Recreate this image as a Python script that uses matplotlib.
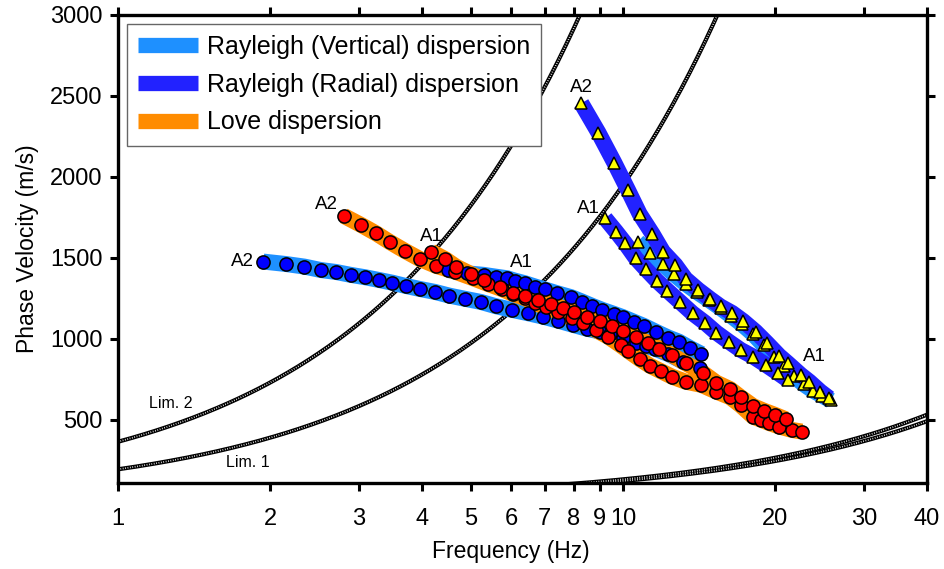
import numpy as np
import matplotlib
matplotlib.use("Agg")
from matplotlib import pyplot as plt
from matplotlib.lines import Line2D

plt.rcParams['font.family'] = ['Liberation Sans', 'DejaVu Sans']

# Rayleigh (vertical) - circle branches
rv_a2_f = [1.94, 2.15, 2.34, 2.52, 2.70, 2.89, 3.09, 3.28, 3.49, 3.71, 3.96, 4.24, 4.53, 4.87,
           5.23, 5.61, 6.03, 6.49, 6.95, 7.45, 7.97, 8.5, 9.0, 9.43, 10.0, 10.6, 11.1, 11.56,
           12.29, 13.15, 14.2]
rv_a2_v = [1477, 1462, 1446, 1425, 1413, 1395, 1380, 1364, 1347, 1327, 1308, 1290, 1267, 1247,
           1228, 1201, 1179, 1158, 1137, 1112, 1086, 1062, 1045, 1030, 1005, 975, 955, 940,
           907, 860, 819]
rv_a1_f = [4.5, 4.9, 5.3, 5.6, 5.9, 6.1, 6.4, 6.7, 7.0, 7.4, 7.9, 8.3, 8.7, 9.1, 9.6, 10.0,
           10.5, 11.0, 11.6, 12.3, 12.9, 13.6, 14.3]
rv_a1_v = [1425, 1405, 1395, 1384, 1374, 1360, 1343, 1323, 1305, 1282, 1257, 1230, 1203, 1179,
           1154, 1134, 1106, 1080, 1045, 1008, 983, 942, 907]
# Rayleigh (vertical) - high frequency branch picked with triangles
rv_hi_f = [10.7, 11.3, 12.0, 12.6, 13.3, 14.0, 14.8, 15.6, 16.4, 17.2, 18.1, 19.0, 19.9, 20.8,
           21.8, 22.8, 23.8, 24.8, 25.8]
rv_hi_v = [1600, 1530, 1460, 1400, 1340, 1290, 1240, 1190, 1140, 1090, 1030, 960, 890, 830,
           770, 720, 680, 650, 620]

# Rayleigh (radial) - triangle branches
rr_a2_f = [8.27, 8.94, 9.61, 10.23, 10.79, 11.44, 12.0, 12.7, 13.3, 14.1, 14.9, 15.6, 16.45,
           17.3, 18.3, 19.3, 20.4, 21.2, 22.5, 23.4, 24.6, 25.6]
rr_a2_v = [2454, 2273, 2088, 1919, 1771, 1648, 1538, 1456, 1370, 1302, 1245, 1200, 1160,
           1110, 1045, 973, 895, 850, 778, 736, 675, 634]
rr_a1_f = [9.22, 9.69, 10.1, 10.6, 11.1, 11.66, 12.25, 12.95, 13.73, 14.53, 15.3, 16.2, 17.1,
           18.1, 19.2, 20.3, 21.2]
rr_a1_v = [1744, 1662, 1590, 1498, 1430, 1360, 1298, 1230, 1158, 1100, 1039, 983, 932,
           891, 839, 788, 747]

# Love - circle branches
lv_a2_f = [2.8, 3.03, 3.24, 3.46, 3.70, 3.96, 4.27, 4.65, 5.05, 5.4, 5.75, 6.06, 6.4, 6.7,
           7.05, 7.44, 7.91, 8.32, 8.83, 9.34, 9.9, 10.25, 10.8, 11.3, 11.9, 12.5, 13.3, 14.3,
           15.3, 16.3, 17.1, 18.1, 18.8, 19.5, 20.4, 21.6, 22.6]
lv_a2_v = [1759, 1703, 1652, 1596, 1543, 1493, 1450, 1415, 1374, 1339, 1308, 1277, 1251, 1220,
           1195, 1168, 1127, 1097, 1055, 1014, 960, 925, 875, 835, 800, 767, 736, 716,
           675, 640, 590, 520, 500, 480, 459, 438, 428]
lv_a1_f = [4.17, 4.45, 4.67, 5.0, 5.3, 5.7, 6.06, 6.4, 6.8, 7.2, 7.6, 8.0, 8.5, 9.0, 9.5, 10.0,
           10.6, 11.2, 11.8, 12.5, 13.3, 14.4, 15.3, 16.3, 17.1, 18.1, 19.0, 20.0, 21.0]
lv_a1_v = [1538, 1491, 1446, 1400, 1365, 1320, 1285, 1262, 1240, 1215, 1190, 1165, 1138, 1110,
           1082, 1050, 1012, 975, 940, 900, 850, 790, 730, 690, 640, 585, 557, 531, 504]

# wavelength limits (m), v = lambda * f
lim_lambda = [195, 365]
lim_names = ['Lim. 1', 'Lim. 2']
low_lambda = [12.3, 13.3]

x_ticks = [1, 2, 3, 4, 5, 6, 7, 8, 9, 10, 20, 30, 40]
y_ticks = [500, 1000, 1500, 2000, 2500, 3000]

c_vert = '#1E90FF'
c_rad = '#2222FF'
c_love = '#FF8C00'


def hatched(ax, f, lam):
    v = lam * f
    ax.plot(f, v, color='black', lw=3.0, zorder=2)
    ax.plot(f, v, color='white', lw=1.2, ls=(0, (0.45, 1.0)), zorder=2.1)


fig = plt.figure(figsize=(9.44, 5.69), dpi=100)
ax = fig.add_axes([0.125, 0.151, 0.857, 0.823])
ax.set_xscale('log')

fgrid = np.geomspace(1, 40, 400)
for lam in lim_lambda + low_lambda:
    hatched(ax, fgrid, lam)

band = dict(lw=11.5, solid_capstyle='butt', solid_joinstyle='round')
ax.plot(rv_a2_f, rv_a2_v, color=c_vert, zorder=3, **band)
ax.plot(rv_a1_f, rv_a1_v, color=c_vert, zorder=3, **band)
ax.plot(rv_hi_f, rv_hi_v, color=c_vert, zorder=3, **band)
ax.plot(rr_a2_f, rr_a2_v, color=c_rad, zorder=3.2, **band)
ax.plot(rr_a1_f, rr_a1_v, color=c_rad, zorder=3.2, **band)
ax.plot(lv_a2_f, lv_a2_v, color=c_love, zorder=3.1, **band)
ax.plot(lv_a1_f, lv_a1_v, color=c_love, zorder=3.1, **band)

circ = dict(ls='none', marker='o', ms=9.5, mec='black', mew=1.1)
tri = dict(ls='none', marker='^', ms=8.5, mfc='#FFFF00', mec='black', mew=1.1)
ax.plot(rv_a2_f, rv_a2_v, mfc='#0000FF', zorder=4, **circ)
ax.plot(rv_a1_f, rv_a1_v, mfc='#0000FF', zorder=4, **circ)
ax.plot(lv_a2_f, lv_a2_v, mfc='#FF0000', zorder=4.1, **circ)
ax.plot(lv_a1_f, lv_a1_v, mfc='#FF0000', zorder=4.1, **circ)
ax.plot(rv_hi_f, rv_hi_v, zorder=4.2, **tri)
ax.plot(rr_a2_f, rr_a2_v, zorder=4.2, **tri)
ax.plot(rr_a1_f, rr_a1_v, zorder=4.2, **tri)

# branch labels
lab = dict(fontsize=13.5, textcoords='offset points', zorder=5)
ax.annotate('A2', (rv_a2_f[0], rv_a2_v[0]), xytext=(-7, 0), ha='right', va='center', **lab)
ax.annotate('A2', (lv_a2_f[0], lv_a2_v[0]), xytext=(-4, 2), ha='right', va='bottom', **lab)
ax.annotate('A1', (lv_a1_f[0], lv_a1_v[0]), xytext=(0, 5), ha='center', va='bottom', **lab)
ax.annotate('A2', (rr_a2_f[0], rr_a2_v[0]), xytext=(0, 5), ha='center', va='bottom', **lab)
ax.annotate('A1', (rr_a1_f[0], rr_a1_v[0]), xytext=(-4, 1), ha='right', va='bottom', **lab)
ax.text(6.3, 1420, 'A1', fontsize=13.5, ha='center', va='bottom', zorder=5)
ax.text(23.9, 890, 'A1', fontsize=13.5, ha='center', va='center', zorder=5)
ax.text(1.27, 600, lim_names[1], fontsize=11.5, ha='center', va='center')
ax.text(1.81, 235, lim_names[0], fontsize=11.5, ha='center', va='center')

ax.set_xlim(1, 40)
ax.set_ylim(110, 3000)
ax.set_xticks(x_ticks)
ax.set_xticklabels([str(t) for t in x_ticks])
ax.xaxis.set_minor_locator(matplotlib.ticker.NullLocator())
ax.set_yticks(y_ticks)
ax.tick_params(which='both', direction='out', length=6, width=2.2, labelsize=17,
               top=True, right=True, pad=5)
ax.tick_params(axis='x', pad=12)
for s in ax.spines.values():
    s.set_linewidth(2.4)
ax.set_xlabel('Frequency (Hz)', fontsize=16.5)
ax.set_ylabel('Phase Velocity (m/s)', fontsize=16.5, labelpad=8)
ax.xaxis.set_label_coords(0.485, -0.122)

handles = [Line2D([], [], color=c_vert, lw=11, solid_capstyle='butt'),
           Line2D([], [], color=c_rad, lw=11, solid_capstyle='butt'),
           Line2D([], [], color=c_love, lw=11, solid_capstyle='butt')]
names = ['Rayleigh (Vertical) dispersion', 'Rayleigh (Radial) dispersion', 'Love dispersion']
leg = ax.legend(handles, names, loc='upper left', fontsize=18, handlelength=2.4,
                fancybox=False, framealpha=1, edgecolor='#666666', borderaxespad=0.35,
                labelspacing=0.55, handletextpad=0.35, borderpad=0.45)
leg.get_frame().set_linewidth(1.0)
leg.set_zorder(6)

fig.savefig('out.png', dpi=100)
